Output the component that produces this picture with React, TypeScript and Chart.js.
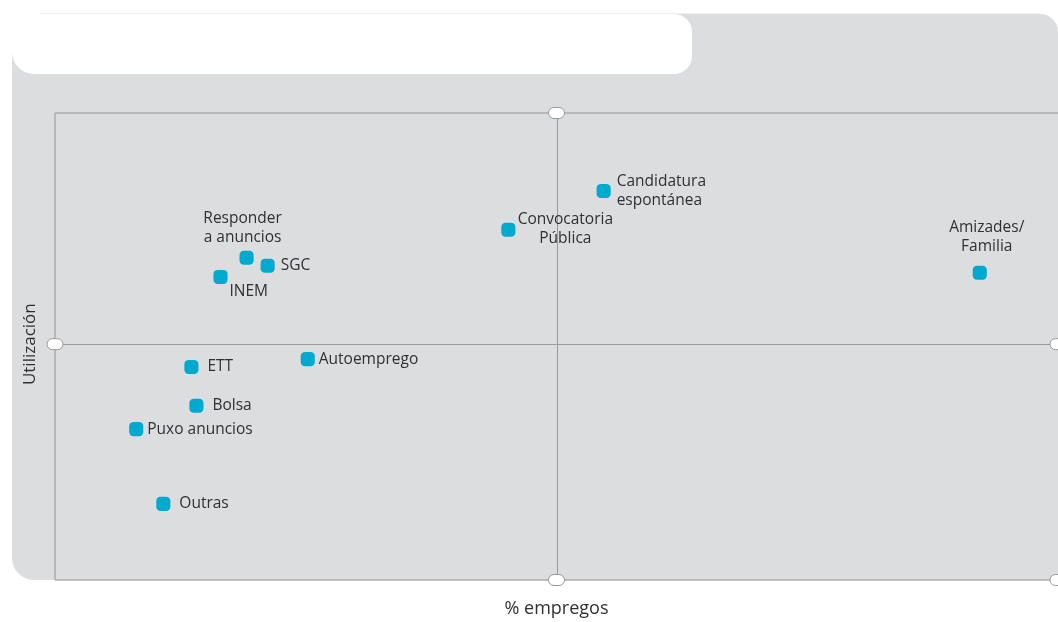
import React, { useEffect, useRef } from "react";
import { Chart, registerables } from "chart.js";

Chart.register(...registerables);

const categories = [
  "Responder\na anuncios",
  "SGC",
  "INEM",
  "Convocatoria\nPública",
  "Candidatura\nespontánea",
  "Amizades/\nFamilia",
  "Autoemprego",
  "ETT",
  "Bolsa",
  "Puxo anuncios",
  "Outras",
];
const empregos = [19.1, 21.2, 16.5, 45.2, 54.7, 92.2, 25.2, 13.6, 14.1, 8.1, 10.8];
const utilizacion = [69.0, 67.3, 64.9, 75.0, 83.3, 65.8, 47.3, 45.6, 37.3, 32.3, 16.3];
const xMid = 50;
const yMid = 50.5;
const xTitle = "% empregos";
const yTitle = "Utilización";

// label placement (style): offset of first line from the point, alignment
const labelPlacement = [
  { dx: -4, dy: -39, align: "center" },
  { dx: 13, dy: 0, align: "left" },
  { dx: 9, dy: 15, align: "left" },
  { dx: 57, dy: -10, align: "center" },
  { dx: 13, dy: -9, align: "left" },
  { dx: 7, dy: -45, align: "center" },
  { dx: 11, dy: 0, align: "left" },
  { dx: 16, dy: 0, align: "left" },
  { dx: 16, dy: 0, align: "left" },
  { dx: 11, dy: 0, align: "left" },
  { dx: 16, dy: 0, align: "left" },
];

const FONT = "'Open Sans', 'DejaVu Sans', sans-serif";
const TEXT = "#303030";

const decorPlugin = {
  id: "decor",
  beforeDraw(chart: any) {
    const ctx = chart.ctx;
    const xs = chart.scales.x;
    const ys = chart.scales.y;
    const ca = chart.chartArea;
    ctx.save();
    // grey panel
    ctx.fillStyle = "#dcdddf";
    ctx.beginPath();
    ctx.roundRect(12, 14, 1046, ca.bottom - 14, [0, 18, 0, 22]);
    ctx.fill();
    // white header box
    ctx.fillStyle = "#ffffff";
    ctx.beginPath();
    ctx.roundRect(12, 14, 680, 60, [0, 18, 18, 22]);
    ctx.fill();
    ctx.strokeStyle = "#f0f0f0";
    ctx.lineWidth = 1;
    ctx.beginPath();
    ctx.moveTo(40, 13.5);
    ctx.lineTo(1040, 13.5);
    ctx.stroke();

    const x0 = xs.getPixelForValue(0);
    const xm = xs.getPixelForValue(xMid);
    const x100 = xs.getPixelForValue(100);
    const y0 = ys.getPixelForValue(0);
    const ym = ys.getPixelForValue(yMid);
    const y100 = ys.getPixelForValue(100);

    // frame
    ctx.strokeStyle = "#acacac";
    ctx.lineWidth = 1.5;
    ctx.beginPath();
    ctx.moveTo(x0, y100);
    ctx.lineTo(x100, y100);
    ctx.moveTo(x0, y0);
    ctx.lineTo(x100, y0);
    ctx.moveTo(x0, y100);
    ctx.lineTo(x0, y0);
    ctx.stroke();
    // centre cross
    ctx.strokeStyle = "#9a9a9a";
    ctx.lineWidth = 1;
    ctx.beginPath();
    ctx.moveTo(Math.round(xm) + 0.5, y100);
    ctx.lineTo(Math.round(xm) + 0.5, y0);
    ctx.moveTo(x0, Math.round(ym) + 0.5);
    ctx.lineTo(x100, Math.round(ym) + 0.5);
    ctx.stroke();

    // ellipses
    const ells = [
      [xm, y100],
      [xm, y0],
      [x0, ym],
      [x100, ym],
      [x100, y0],
    ];
    ctx.fillStyle = "#ffffff";
    ctx.strokeStyle = "#999999";
    ctx.lineWidth = 1;
    for (const [ex, ey] of ells) {
      ctx.beginPath();
      ctx.roundRect(ex - 8, ey - 5.5, 16, 11, 5.5);
      ctx.fill();
      ctx.stroke();
    }

    // axis titles
    ctx.fillStyle = TEXT;
    ctx.textAlign = "center";
    ctx.textBaseline = "middle";
    ctx.font = `18px ${FONT}`;
    ctx.fillText(xTitle, xm, 609);
    ctx.font = `17px ${FONT}`;
    ctx.save();
    ctx.translate(30, ym);
    ctx.rotate(-Math.PI / 2);
    ctx.fillText(yTitle, 0, 0);
    ctx.restore();
    ctx.restore();
  },
  afterDatasetsDraw(chart: any) {
    const ctx = chart.ctx;
    const meta = chart.getDatasetMeta(0);
    ctx.save();
    ctx.fillStyle = TEXT;
    ctx.font = `15.5px ${FONT}`;
    ctx.textBaseline = "middle";
    meta.data.forEach((pt: any, i: number) => {
      const p = labelPlacement[i];
      const lines = categories[i].split("\n");
      ctx.textAlign = p.align;
      lines.forEach((ln, j) => {
        ctx.fillText(ln, pt.x + p.dx, pt.y + p.dy + j * 19);
      });
    });
    ctx.restore();
  },
};

export default function App() {
  const ref = useRef<HTMLCanvasElement>(null);
  useEffect(() => {
    if (!ref.current) return;
    const chart = new Chart(ref.current, {
      type: "scatter",
      data: {
        datasets: [
          {
            label: "Métodos",
            data: empregos.map((x, i) => ({ x, y: utilizacion[i] })),
            pointStyle: "rectRounded",
            pointRadius: 8.2,
            pointHoverRadius: 8.2,
            backgroundColor: "#00a9ce",
            borderColor: "#00a9ce",
            borderWidth: 0,
            clip: false,
          },
        ],
      },
      options: {
        animation: false,
        responsive: false,
        devicePixelRatio: 1,
        layout: { autoPadding: false, padding: { left: 55, top: 113, right: 0, bottom: 42 } },
        plugins: { legend: { display: false }, tooltip: { enabled: false } },
        scales: {
          x: { type: "linear", min: 0, max: 100, display: false },
          y: { type: "linear", min: 0, max: 100, display: false },
        },
      },
      plugins: [decorPlugin],
    });
    return () => chart.destroy();
  }, []);
  return (
    <div style={{ position: "absolute", left: 0, top: 0, width: 1058, height: 622, overflow: "hidden", background: "#fff" }}>
      <canvas ref={ref} width={1058} height={622} />
    </div>
  );
}
